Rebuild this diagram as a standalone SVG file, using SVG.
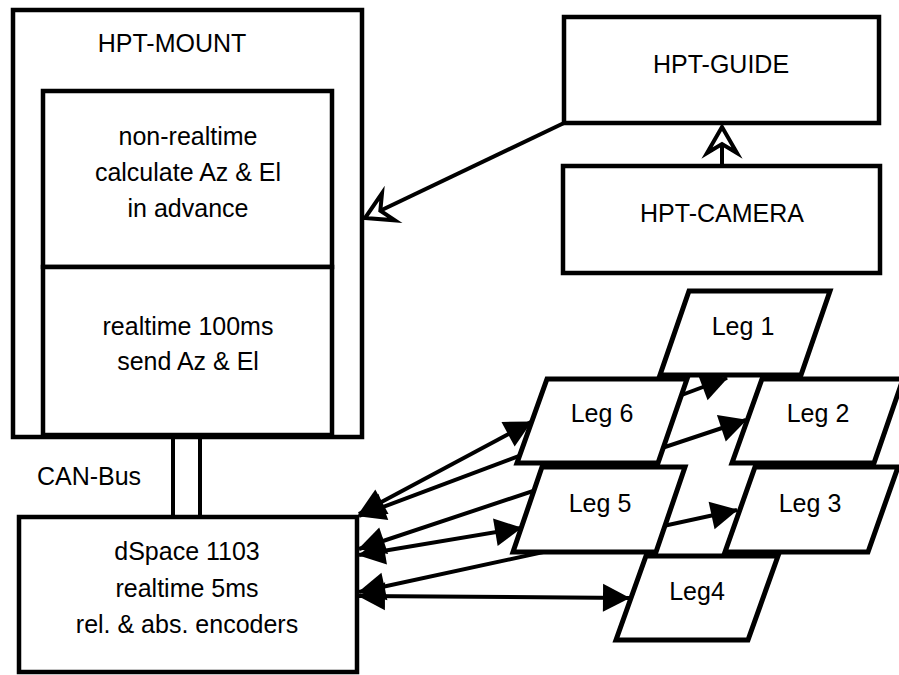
<svg xmlns="http://www.w3.org/2000/svg" width="899" height="675" viewBox="0 0 899 675">
<style>
.box{fill:#fff;stroke:#000;stroke-width:4.5}
.leg{fill:#fff;stroke:#000;stroke-width:5}
.t{font-family:"Liberation Sans",Arial,Helvetica,sans-serif;font-size:25px;fill:#000;text-anchor:middle}
.c{fill:none;stroke:#000;stroke-width:4}
.bi{marker-start:url(#solid);marker-end:url(#solid)}
.op{marker-end:url(#open)}
</style>
<defs>
<marker id="solid" markerUnits="userSpaceOnUse" viewBox="0 0 27 28" markerWidth="27" markerHeight="28" refX="26" refY="14" orient="auto-start-reverse" overflow="visible">
<path d="M0,0 L27,14 L0,28 Z" fill="#000"/>
</marker>
<marker id="open" markerUnits="userSpaceOnUse" viewBox="0 0 27 30" markerWidth="27" markerHeight="30" refX="26" refY="15" orient="auto" overflow="visible">
<path d="M26,15 L0,0 L9,15 L0,30 Z" fill="#fff" stroke="#000" stroke-width="4" stroke-linejoin="miter"/>
</marker>
</defs>
<g id="connectors">
<line class="c bi" x1="359" y1="514" x2="531" y2="422"/>
<line class="c bi" x1="359" y1="516" x2="727" y2="378"/>
<line class="c bi" x1="359" y1="549" x2="746" y2="420"/>
<line class="c bi" x1="359" y1="555" x2="521" y2="528"/>
<line class="c bi" x1="359" y1="592" x2="737" y2="510"/>
<line class="c bi" x1="359" y1="596" x2="629" y2="598"/>
<line class="c op" x1="564" y1="123" x2="365" y2="218"/>
<line class="c op" x1="722" y1="164" x2="722" y2="127"/>
<line class="c" x1="173" y1="437" x2="173" y2="517"/>
<line class="c" x1="200" y1="437" x2="200" y2="517"/>
</g>
<g id="hpt-mount">
<rect class="box" x="13" y="10" width="349" height="427"/>
<text class="t" x="172" y="52">HPT-MOUNT</text>
</g>
<g id="non-realtime">
<rect class="box" x="43" y="91" width="289" height="176"/>
<text class="t" x="188" y="145">non-realtime</text>
<text class="t" x="188" y="181">calculate Az &amp; El</text>
<text class="t" x="188" y="217">in advance</text>
</g>
<g id="realtime">
<rect class="box" x="43" y="267" width="289" height="168"/>
<text class="t" x="188" y="335">realtime 100ms</text>
<text class="t" x="188" y="370">send Az &amp; El</text>
</g>
<g id="hpt-guide">
<rect class="box" x="564" y="17" width="315" height="106"/>
<text class="t" x="721" y="73">HPT-GUIDE</text>
</g>
<g id="hpt-camera">
<rect class="box" x="563" y="166" width="317" height="107"/>
<text class="t" x="722" y="222">HPT-CAMERA</text>
</g>
<g id="can-bus-label">
<text class="t" x="89" y="485">CAN-Bus</text>
</g>
<g id="dspace">
<rect class="box" x="19" y="517" width="338" height="155"/>
<text class="t" x="187" y="560">dSpace 1103</text>
<text class="t" x="187" y="597">realtime 5ms</text>
<text class="t" x="187" y="633">rel. &amp; abs. encoders</text>
</g>
<g id="leg1">
<polygon class="leg" points="689,291 830,291 801,375 660,375"/>
<text class="t" x="743" y="335">Leg 1</text>
</g>
<g id="leg6">
<polygon class="leg" points="547,379 687,379 658,463 517,463"/>
<text class="t" x="602" y="422">Leg 6</text>
</g>
<g id="leg2">
<polygon class="leg" points="762,379 903,379 874,463 732,463"/>
<text class="t" x="818" y="422">Leg 2</text>
</g>
<g id="leg5">
<polygon class="leg" points="542,467 685,467 656,552 513,552"/>
<text class="t" x="600" y="512">Leg 5</text>
</g>
<g id="leg3">
<polygon class="leg" points="755,467 898,467 868,552 725,552"/>
<text class="t" x="810" y="512">Leg 3</text>
</g>
<g id="leg4">
<polygon class="leg" points="646,556 778,556 748,640 616,640"/>
<text class="t" x="697" y="600">Leg4</text>
</g>
</svg>
